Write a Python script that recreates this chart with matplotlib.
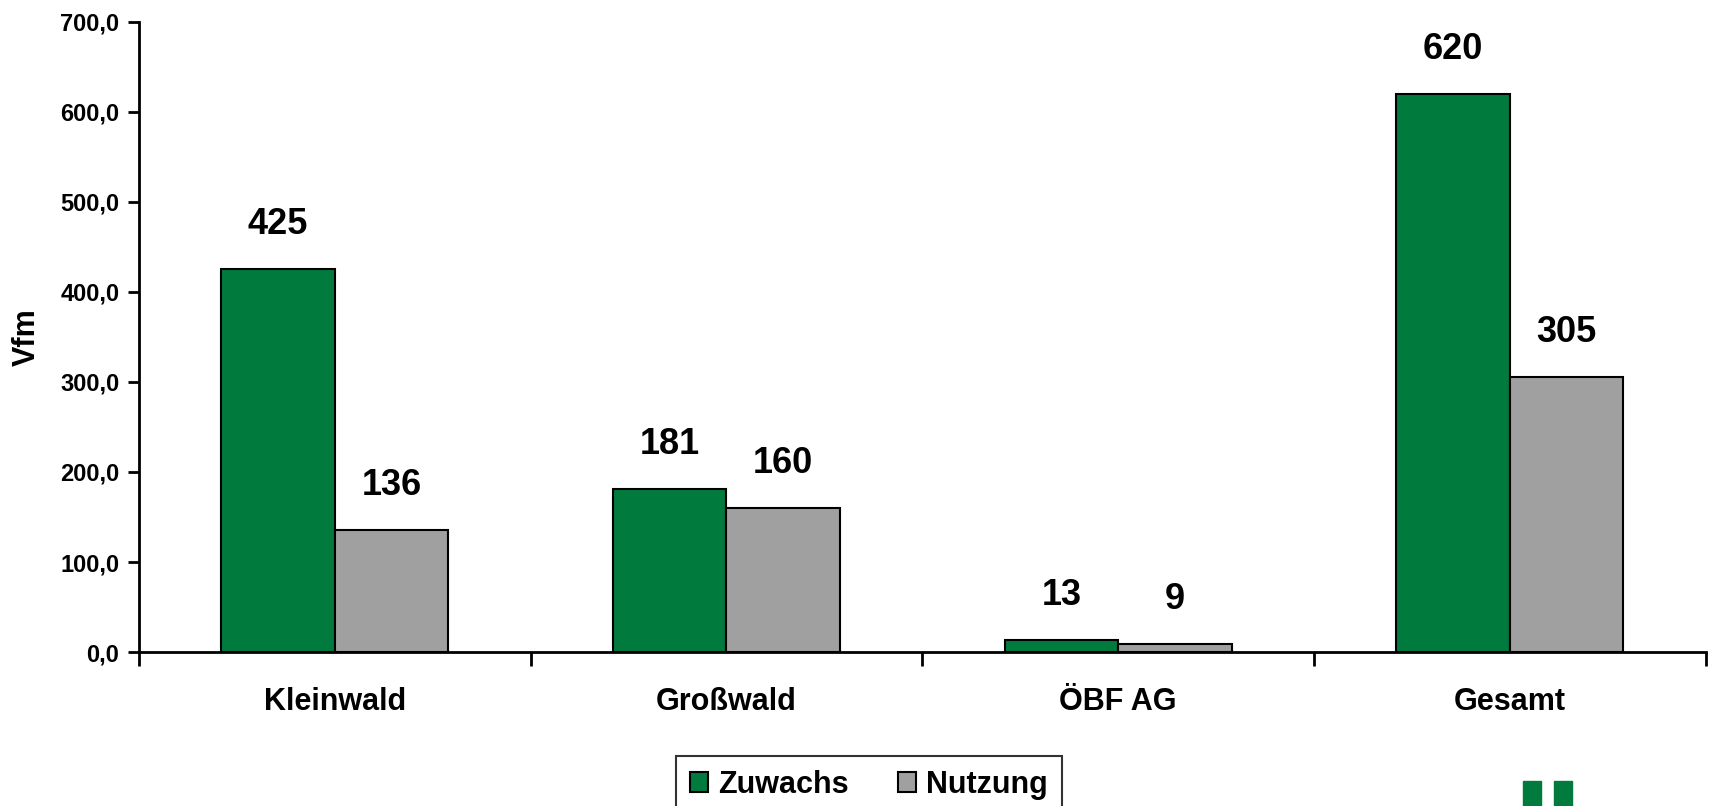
import matplotlib
matplotlib.use("Agg")
import matplotlib.pyplot as plt
import matplotlib.patches as mpatches
import numpy as np

plt.rcParams['font.family'] = ['Liberation Sans', 'DejaVu Sans']
plt.rcParams['font.weight'] = 'bold'
plt.rcParams['axes.labelweight'] = 'bold'

# data
kategorien = ['Kleinwald', 'Großwald', 'ÖBF AG', 'Gesamt']
zuwachs = [425, 181, 13, 620]
nutzung = [136, 160, 9, 305]
farbe_zuwachs = '#007A3D'
farbe_nutzung = '#A0A0A0'

fig = plt.figure(figsize=(17.09, 8.06), dpi=100)
ax = fig.add_axes([0.0813, 0.191, 0.9167, 0.782])

x = np.arange(len(kategorien))
w = 0.29
b1 = ax.bar(x - w/2, zuwachs, w, color=farbe_zuwachs, edgecolor='black', linewidth=1.5, label='Zuwachs')
b2 = ax.bar(x + w/2, nutzung, w, color=farbe_nutzung, edgecolor='black', linewidth=1.5, label='Nutzung')

for bars, vals in [(b1, zuwachs), (b2, nutzung)]:
    for r, v in zip(bars, vals):
        ax.annotate(str(v), (r.get_x() + r.get_width()/2, v), xytext=(0, 32),
                    textcoords='offset points', ha='center', va='center',
                    fontsize=26, fontweight='bold')

ax.set_xlim(-0.5, 3.5)
ax.set_ylim(0, 700)
ax.set_yticks(np.arange(0, 701, 100))
ax.set_yticklabels([f'{v:.1f}'.replace('.', ',') for v in np.arange(0, 701, 100)], fontsize=17)
ax.set_xticks(np.arange(-0.5, 3.6, 1))
ax.set_xticklabels([])
ax.set_xticks(x, minor=True)
ax.set_xticklabels(kategorien, minor=True, fontsize=22)
ax.tick_params(axis='x', which='major', length=10, width=2, direction='out')
ax.tick_params(axis='x', which='minor', length=0, pad=25)
ax.tick_params(axis='y', length=8, width=2, pad=6)
ax.set_ylabel('Vfm', fontsize=22, fontweight='bold', labelpad=13)

for s in ['top', 'right']:
    ax.spines[s].set_visible(False)
for s in ['left', 'bottom']:
    ax.spines[s].set_linewidth(2)

leg = ax.legend(loc='upper center', bbox_to_anchor=(869/1709, 1 - 756/806), bbox_transform=fig.transFigure,
                ncol=2, fontsize=22, frameon=True, fancybox=False, edgecolor='black',
                handlelength=0.6, handleheight=0.6, handletextpad=0.33, columnspacing=1.6,
                borderpad=0.45, borderaxespad=0)
leg.get_frame().set_linewidth(1.5)

# logo fragment bottom right
for x0 in [1523, 1554]:
    fig.patches.append(mpatches.Rectangle((x0/1709, 0), 18/1709, 25/806, transform=fig.transFigure,
                                          color=farbe_zuwachs))

fig.savefig('out.png', dpi=100)
